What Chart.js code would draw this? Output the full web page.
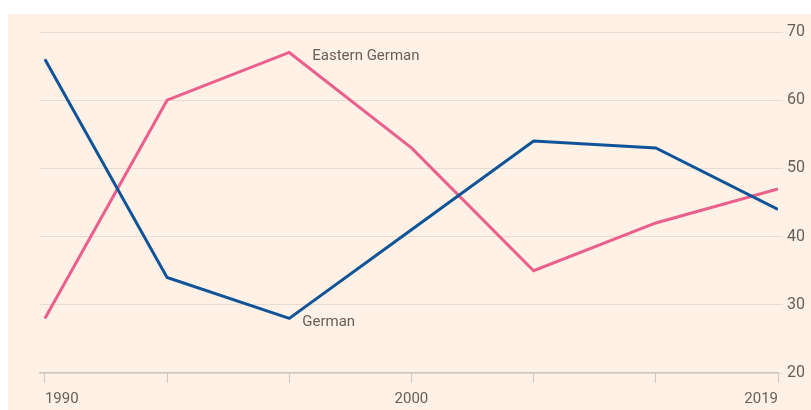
<!DOCTYPE html>
<html>
<head>
<meta charset="utf-8">
<script src="https://cdn.jsdelivr.net/npm/chart.js@4"></script>
<style>
  html, body { margin: 0; padding: 0; background: #ffffff; }
  #wrap { width: 811px; height: 410px; position: relative; }
</style>
</head>
<body>
<div id="wrap"><canvas id="c" width="811" height="410"></canvas></div>
<script>
const categories = ['1990', '', '', '2000', '', '', '2019'];
const german = [66, 34, 28, 41, 54, 53, 44];
const easternGerman = [28, 60, 67, 53, 35, 42, 47];
const yTicks = [20, 30, 40, 50, 60, 70];

const TEXT = '#66605C';
const GRID = '#E6DCD3';
const AXIS = '#CFC8C1';
const FONT = 'Roboto, "Liberation Sans", sans-serif';

const bgPlugin = {
  id: 'bg',
  beforeDraw(chart) {
    const ctx = chart.ctx;
    ctx.save();
    ctx.fillStyle = '#ffffff';
    ctx.fillRect(0, 0, chart.width, chart.height);
    ctx.fillStyle = '#FFF1E5';
    ctx.fillRect(8, 14, chart.width - 8, chart.height - 14);
    ctx.restore();
  }
};

const labelPlugin = {
  id: 'seriesLabels',
  afterDatasetsDraw(chart) {
    const ctx = chart.ctx;
    ctx.save();
    ctx.font = '15px ' + FONT;
    ctx.fillStyle = TEXT;
    ctx.textBaseline = 'middle';
    ctx.textAlign = 'left';
    const pe = chart.getDatasetMeta(1).data[2];
    ctx.fillText('Eastern German', pe.x + 23, pe.y + 4);
    const pg = chart.getDatasetMeta(0).data[2];
    ctx.fillText('German', pg.x + 13, pg.y + 4);
    ctx.restore();
  }
};

new Chart(document.getElementById('c'), {
  type: 'line',
  data: {
    datasets: [
      {
        label: 'German',
        data: german.map((v, i) => ({ x: i, y: v })),
        borderColor: '#0F5499',
        borderWidth: 3,
        pointRadius: 0,
        tension: 0,
        borderJoinStyle: 'miter',
        borderCapStyle: 'butt',
        fill: false
      },
      {
        label: 'Eastern German',
        data: easternGerman.map((v, i) => ({ x: i, y: v })),
        borderColor: '#EB5F8D',
        borderWidth: 3,
        pointRadius: 0,
        tension: 0,
        borderJoinStyle: 'miter',
        borderCapStyle: 'butt',
        fill: false
      }
    ]
  },
  options: {
    responsive: false,
    animation: false,
    layout: { padding: { left: 40, top: 32, right: 0, bottom: 0 } },
    plugins: { legend: { display: false }, tooltip: { enabled: false } },
    scales: {
      x: {
        type: 'linear',
        min: -0.04,
        max: categories.length - 1,
        afterBuildTicks(scale) {
          scale.ticks = categories.map((c, i) => ({ value: i }));
        },
        afterFit(scale) { scale.height = 37; },
        grid: {
          drawOnChartArea: false,
          drawTicks: true,
          tickLength: 10,
          color: AXIS,
          lineWidth: 1
        },
        border: { display: true, color: AXIS, width: 1.5 },
        ticks: {
          autoSkip: false,
          maxRotation: 0,
          align: 'inner',
          padding: 7,
          color: TEXT,
          font: { family: FONT, size: 15 },
          callback: (v) => categories[Math.round(v)] ?? ''
        }
      },
      y: {
        position: 'right',
        min: 20,
        max: 70,
        afterBuildTicks(scale) {
          scale.ticks = yTicks.map(v => ({ value: v }));
        },
        afterFit(scale) { scale.width = 33; },
        grid: {
          color: GRID,
          lineWidth: 1,
          drawTicks: true,
          tickLength: 5
        },
        border: { display: false },
        ticks: {
          padding: 4,
          color: TEXT,
          font: { family: FONT, size: 16 }
        }
      }
    }
  },
  plugins: [bgPlugin, labelPlugin]
});
</script>
</body>
</html>
